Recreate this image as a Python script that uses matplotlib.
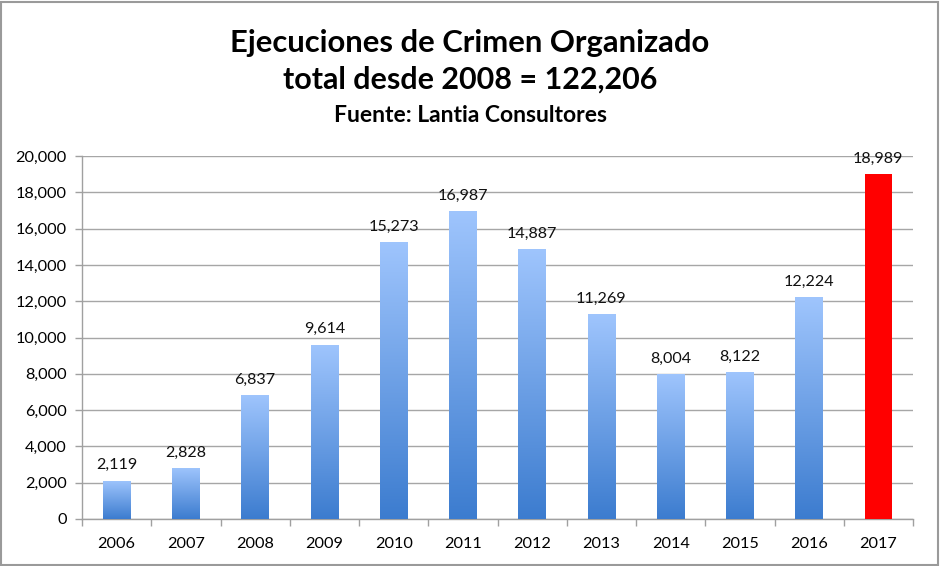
import matplotlib
matplotlib.use("Agg")
import matplotlib.pyplot as plt
import numpy as np
from matplotlib.colors import LinearSegmentedColormap
from matplotlib.patches import Rectangle

years = ["2006", "2007", "2008", "2009", "2010", "2011", "2012", "2013", "2014", "2015", "2016", "2017"]
values = [2119, 2828, 6837, 9614, 15273, 16987, 14887, 11269, 8004, 8122, 12224, 18989]
labels = ["2,119", "2,828", "6,837", "9,614", "15,273", "16,987", "14,887", "11,269", "8,004", "8,122", "12,224", "18,989"]
yticks = [0, 2000, 4000, 6000, 8000, 10000, 12000, 14000, 16000, 18000, 20000]
ytick_labels = ["0", "2,000", "4,000", "6,000", "8,000", "10,000", "12,000", "14,000", "16,000", "18,000", "20,000"]

plt.rcParams['font.family'] = ['Lato', 'DejaVu Sans']

fig = plt.figure(figsize=(9.4, 5.66), dpi=100)
ax = fig.add_axes([82/940, 1 - 519/566, (913 - 82)/940, (519 - 156)/566])

x = np.arange(len(years))
bars = ax.bar(x, values, width=0.4, color="none", edgecolor="none", zorder=3)

cmap = LinearSegmentedColormap.from_list("g", ["#3c7ccf", "#9fc5fd"])
grad = np.linspace(0, 1, 256).reshape(-1, 1)
for i, b in enumerate(bars):
    x0, w, h = b.get_x(), b.get_width(), b.get_height()
    if i == len(bars) - 1:
        b.set_facecolor("#ff0000")
        continue
    im = ax.imshow(grad, extent=[x0, x0 + w, 0, h], origin="lower", cmap=cmap,
                   aspect="auto", zorder=3, interpolation="bilinear")
    im.set_clip_path(b)

for xi, v, lab in zip(x, values, labels):
    ax.text(xi, v + 450, lab, ha="center", va="bottom", fontsize=11.6, color="#111111", zorder=5)

ax.set_xlim(-0.5, len(years) - 0.5)
ax.set_ylim(0, 20000)
ax.set_yticks(yticks)
ax.set_yticklabels(ytick_labels, fontsize=11.7)
ax.set_xticks(x)
ax.set_xticklabels(years, fontsize=11.7)
ax.tick_params(axis="x", length=0, pad=13)
ax.set_xticks(np.arange(-0.5, len(years), 1), minor=True)
ax.tick_params(axis="x", which="minor", length=5, color="#a0a0a0", width=1)
ax.tick_params(axis="y", length=5, color="#a0a0a0", width=1, pad=6)
ax.yaxis.grid(True, color="#a6a6a6", linewidth=1, zorder=0)
ax.set_axisbelow(True)
for s in ["top", "right"]:
    ax.spines[s].set_visible(False)
for s in ["left", "bottom"]:
    ax.spines[s].set_color("#a0a0a0")
    ax.spines[s].set_linewidth(1)

fig.text(0.5, 1 - 43/566, "Ejecuciones de Crimen Organizado", ha="center", va="center",
         fontsize=22.3, fontweight="bold")
fig.text(0.5, 1 - 80/566, "total desde 2008 = 122,206", ha="center", va="center",
         fontsize=22, fontweight="bold")
fig.text(0.5, 1 - 116/566, "Fuente: Lantia Consultores", ha="center", va="center",
         fontsize=16.5, fontweight="bold")

fig.patches.append(Rectangle((0.001, 0.002), 0.997, 0.995, transform=fig.transFigure,
                             fill=False, edgecolor="#9a9a9a", linewidth=1.5))

fig.savefig("out.png", dpi=100, facecolor="white")
